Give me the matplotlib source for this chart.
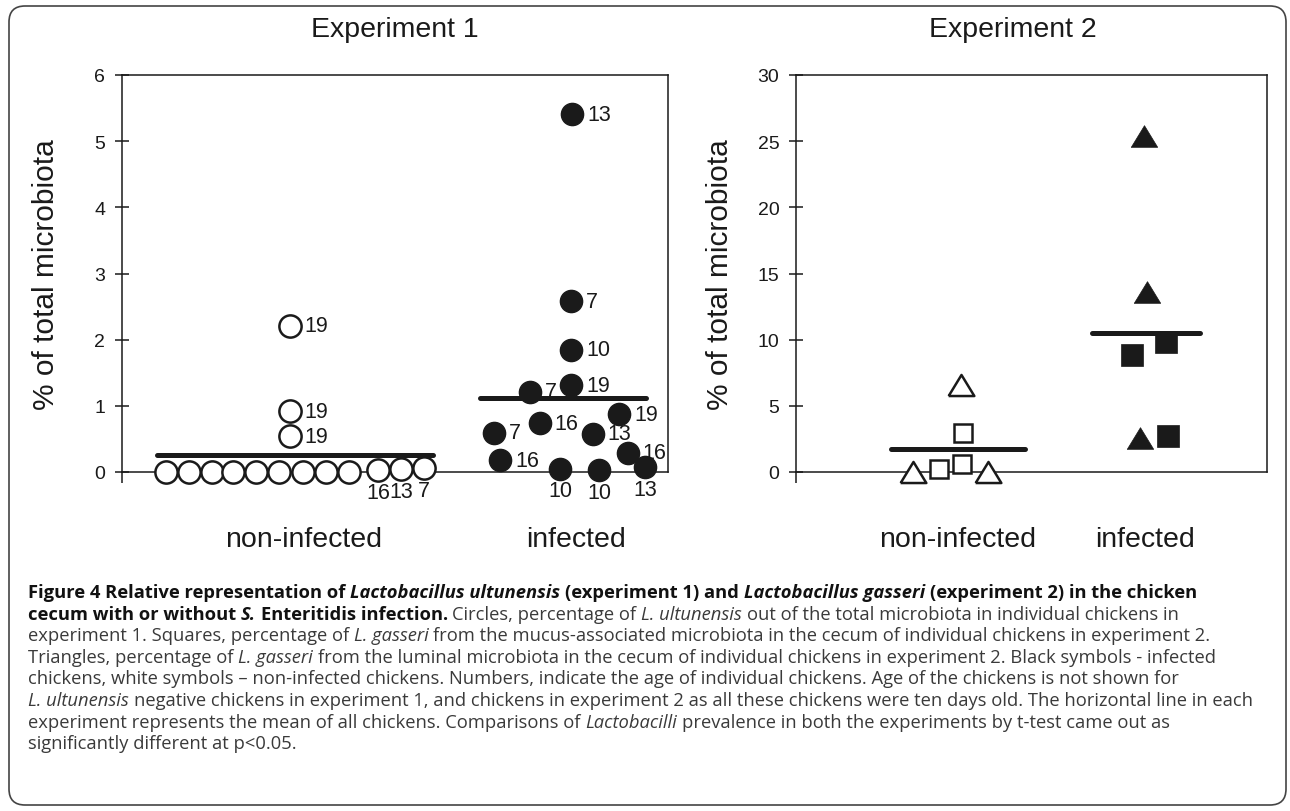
import numpy as np
import matplotlib
matplotlib.use("Agg")
import matplotlib.pyplot as plt
from matplotlib.patches import FancyBboxPatch
from matplotlib.transforms import IdentityTransform
from matplotlib.ticker import FixedLocator

plt.rcParams['font.family'] = ['Liberation Sans', 'DejaVu Sans']

# ---- Experiment 1 (L. ultunensis), circles ----
e1_non_x = [0.80, 1.22, 1.64, 2.04, 2.46, 2.88, 3.32, 3.74, 4.16, 4.69, 5.11, 5.53, 3.07, 3.07, 3.07]
e1_non_y = [0, 0, 0, 0, 0, 0, 0, 0, 0, 0.03, 0.04, 0.06, 2.21, 0.92, 0.54]
e1_non_age = ['', '', '', '', '', '', '', '', '', '16', '13', '7', '19', '19', '19']

e1_inf_x = [8.25, 8.23, 8.23, 8.23, 7.48, 9.11, 7.66, 6.81, 8.63, 9.27, 6.93, 8.03, 8.74, 9.58]
e1_inf_y = [5.41, 2.58, 1.85, 1.31, 1.21, 0.87, 0.74, 0.59, 0.58, 0.29, 0.18, 0.05, 0.03, 0.07]
e1_inf_age = ['13', '7', '10', '19', '7', '19', '16', '7', '13', '16', '16', '10', '10', '13']

# ---- Experiment 2 (L. gasseri), squares = mucus, triangles = luminal ----
e2_non_tri_x = [2.48, 4.08, 3.50]
e2_non_tri_y = [0, 0, 6.6]
e2_non_sq_x = [3.04, 3.52, 3.55]
e2_non_sq_y = [0.2, 0.6, 2.95]
e2_inf_tri_x = [7.39, 7.45, 7.30]
e2_inf_tri_y = [25.4, 13.6, 2.6]
e2_inf_sq_x = [7.13, 7.86, 7.90]
e2_inf_sq_y = [8.85, 9.8, 2.7]

groups = ['non-infected', 'infected']
e1_group_x = [3.32, 8.32]
e2_group_x = [3.43, 7.41]

W, H = 1290, 812
fig = plt.figure(figsize=(W / 100, H / 100), dpi=100)
INK = '#1a1a1a'


def px_axes(l, t, r, b):
    return fig.add_axes([l / W, 1 - b / H, (r - l) / W, (b - t) / H])


def style_axes(ax, ymax, step, gx, title, title_x):
    ax.set_xlim(0, 10)
    ax.set_ylim(0, ymax)
    ax.set_yticks(np.arange(0, ymax + step / 2, step))
    ax.tick_params(axis='y', direction='inout', length=10, width=1.1,
                   labelsize=14, pad=7, colors=INK)
    ax.set_xticks(gx)
    ax.set_xticklabels(groups, fontsize=20.5, color=INK)
    ax.tick_params(axis='x', which='major', length=0, pad=39)
    ax.xaxis.set_minor_locator(FixedLocator([0]))
    ax.tick_params(axis='x', which='minor', direction='out', length=8, width=1.1, color=INK)
    for s in ax.spines.values():
        s.set_linewidth(1.1)
        s.set_color(INK)
    h = ax.bbox.height
    ax.text(title_x, 1 + 46 / h, title, transform=ax.transAxes, ha='center',
            va='center', fontsize=20.5, color=INK)
    ax.text(-76 / ax.bbox.width, 0.5, '% of total microbiota', transform=ax.transAxes,
            rotation=90, ha='center', va='center', fontsize=21.5, color=INK)


def label_points(ax, xs, ys, ages):
    for x, y, a in zip(xs, ys, ages):
        if not a:
            continue
        if y < 0.1:
            ax.annotate(a, (x, y), xytext=(0, -16), textcoords='offset points',
                        ha='center', va='center', fontsize=15.5, color=INK)
        else:
            ax.annotate(a, (x, y), xytext=(10.5, 0), textcoords='offset points',
                        ha='left', va='center', fontsize=15.5, color=INK)


# ---------------- Experiment 1 ----------------
ax1 = px_axes(122, 76, 668, 473)
style_axes(ax1, 6, 1, e1_group_x, 'Experiment 1', 0.5)
ax1.hlines(np.mean(e1_non_y), 0.64, 5.69, color=INK, lw=3.6, capstyle='round', zorder=2)
ax1.hlines(np.mean(e1_inf_y), 6.55, 9.60, color=INK, lw=3.6, capstyle='round', zorder=2)
ax1.plot(e1_non_x, e1_non_y, 'o', ms=16, mfc='white', mec=INK, mew=1.8, clip_on=False, zorder=3)
ax1.plot(e1_inf_x, e1_inf_y, 'o', ms=16, mfc=INK, mec=INK, mew=1, clip_on=False, zorder=3)
label_points(ax1, e1_non_x, e1_non_y, e1_non_age)
label_points(ax1, e1_inf_x, e1_inf_y, e1_inf_age)

# ---------------- Experiment 2 ----------------
tri = [(-1, -0.82), (1, -0.82), (0, 0.82), (-1, -0.82)]
ax2 = px_axes(796, 76, 1267, 473)
style_axes(ax2, 30, 5, e2_group_x, 'Experiment 2', 0.46)
e2_non = e2_non_tri_y + e2_non_sq_y
e2_inf = e2_inf_tri_y + e2_inf_sq_y
ax2.hlines(np.mean(e2_non), 2.02, 4.86, color=INK, lw=3.6, capstyle='round', zorder=2)
ax2.hlines(np.mean(e2_inf), 6.29, 8.58, color=INK, lw=3.6, capstyle='round', zorder=2)
ax2.plot(e2_non_tri_x, e2_non_tri_y, ls='none', marker=tri, ms=18.5, mfc='white', mec=INK,
         mew=1.8, clip_on=False, zorder=3)
ax2.plot(e2_non_sq_x, e2_non_sq_y, 's', ms=13.5, mfc='white', mec=INK, mew=1.8,
         clip_on=False, zorder=3)
ax2.plot(e2_inf_tri_x, e2_inf_tri_y, ls='none', marker=tri, ms=19, mfc=INK, mec=INK,
         mew=0.5, clip_on=False, zorder=3)
ax2.plot(e2_inf_sq_x, e2_inf_sq_y, 's', ms=15.5, mfc=INK, mec=INK, mew=0.5,
         clip_on=False, zorder=3)

# ---------------- caption ----------------
caption = [
    [("Figure 4 Relative representation of ", 'b'), ("Lactobacillus ultunensis ", 'bi'),
     ("(experiment 1) and ", 'b'), ("Lactobacillus gasseri ", 'bi'),
     ("(experiment 2) in the chicken", 'b')],
    [("cecum with or without ", 'b'), ("S. ", 'bi'), ("Enteritidis infection. ", 'b'),
     ("Circles, percentage of ", 'r'), ("L. ultunensis ", 'i'),
     ("out of the total microbiota in individual chickens in", 'r')],
    [("experiment 1. Squares, percentage of ", 'r'), ("L. gasseri ", 'i'),
     ("from the mucus-associated microbiota in the cecum of individual chickens in experiment 2.", 'r')],
    [("Triangles, percentage of ", 'r'), ("L. gasseri ", 'i'),
     ("from the luminal microbiota in the cecum of individual chickens in experiment 2. Black symbols - infected", 'r')],
    [("chickens, white symbols \u2013 non-infected chickens. Numbers, indicate the age of individual chickens. Age of the chickens is not shown for", 'r')],
    [("L. ultunensis ", 'i'),
     ("negative chickens in experiment 1, and chickens in experiment 2 as all these chickens were ten days old. The horizontal line in each", 'r')],
    [("experiment represents the mean of all chickens. Comparisons of ", 'r'), ("Lactobacilli ", 'i'),
     ("prevalence in both the experiments by t-test came out as", 'r')],
    [("significantly different at p<0.05.", 'r')],
]

renderer = fig.canvas.get_renderer()


def cap_kw(st, size):
    kw = dict(fontsize=size, family=['Open Sans', 'DejaVu Sans'])
    kw['weight'] = 'bold' if 'b' in st else 'normal'
    kw['style'] = 'italic' if 'i' in st else 'normal'
    kw['color'] = '#111111' if 'b' in st else '#3a3a3a'
    return kw


def run_width(s, kw):
    t = fig.text(0, 0, '|' + s + '|', **kw)
    w1 = t.get_window_extent(renderer).width
    t.remove()
    t = fig.text(0, 0, '||', **kw)
    w2 = t.get_window_extent(renderer).width
    t.remove()
    return w1 - w2


def line_width(runs, size):
    return sum(run_width(s, cap_kw(st, size)) for s, st in runs)


x0 = 28
size = 12 * (1245 - x0) / line_width(caption[5], 12)
y = 593
for runs in caption:
    x = x0
    for s, st in runs:
        kw = cap_kw(st, size)
        fig.text(x / W, 1 - y / H, s.rstrip(), ha='left', va='center', **kw)
        x += run_width(s, kw)
    y += 21.6

border = FancyBboxPatch((9, 6), 1277, 799, boxstyle='round,pad=0,rounding_size=16',
                        transform=IdentityTransform(), fill=False, ec='#444444', lw=1.2)
fig.patches.append(border)

fig.savefig('out.png', dpi=100)
